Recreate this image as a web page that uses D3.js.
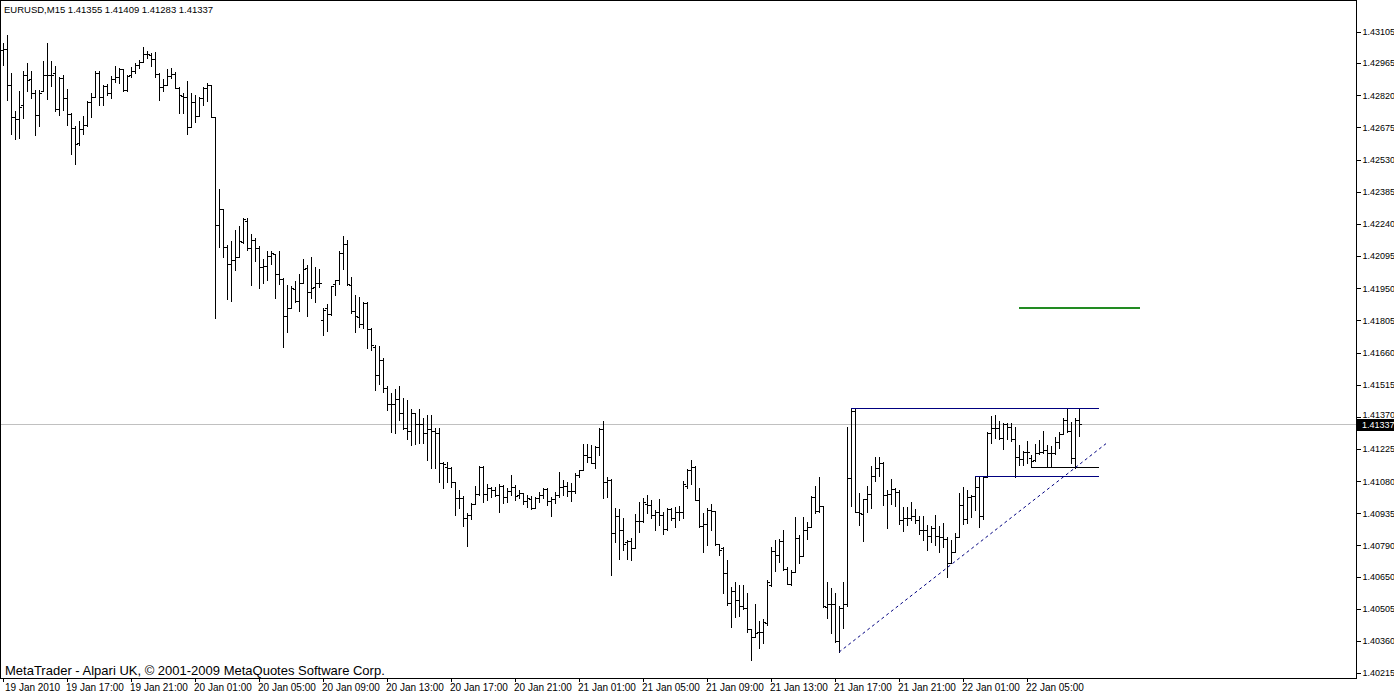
<!DOCTYPE html>
<html><head><meta charset="utf-8">
<script src="https://cdn.jsdelivr.net/npm/d3@7"></script>
<style>
body{margin:0;background:#fff;}
svg{display:block;}
text{font-family:"Liberation Sans",Arial,sans-serif;}
</style>
</head><body>
<svg id="chart" width="1394" height="694"></svg>
<script>
const header = "EURUSD,M15  1.41355 1.41409 1.41283 1.41337";
const footer = "MetaTrader - Alpari UK, \u00A9 2001-2009 MetaQuotes Software Corp.";

const openP = [1.43024,1.43028,1.42866,1.42722,1.42713,1.42776,1.42911,1.42893,1.42830,1.42731,
1.42839,1.42911,1.42911,1.42920,1.42758,1.42898,1.42807,1.42735,1.42672,1.42604,
1.42668,1.42686,1.42789,1.42812,1.42920,1.42812,1.42861,1.42830,1.42893,1.42902,
1.42938,1.42843,1.42911,1.42929,1.42956,1.42970,1.43006,1.43001,1.42983,1.42916,
1.42857,1.42866,1.42907,1.42916,1.42852,1.42816,1.42812,1.42677,1.42789,1.42726,
1.42807,1.42852,1.42866,1.42722,1.42235,1.42307,1.42135,1.42059,1.42077,1.42090,
1.42158,1.42253,1.42131,1.42167,1.42131,1.42045,1.42050,1.42095,1.42104,1.42014,
1.41991,1.41824,1.41860,1.41946,1.41892,1.41973,1.42041,1.41932,1.41955,1.41973,
1.41806,1.41860,1.41833,1.41968,1.41987,1.42108,1.42149,1.41964,1.41847,1.41820,
1.41788,1.41883,1.41766,1.41684,1.41558,1.41626,1.41499,1.41427,1.41427,1.41450,
1.41387,1.41319,1.41306,1.41387,1.41337,1.41337,1.41296,1.41315,1.41306,1.41296,
1.41161,1.41143,1.41139,1.41075,1.41003,1.41003,1.40913,1.40927,1.40976,1.41021,
1.41143,1.41021,1.41048,1.41039,1.41017,1.41057,1.41008,1.41035,1.41053,1.41017,
1.41026,1.40990,1.40999,1.40958,1.41003,1.41017,1.41044,1.40990,1.40999,1.41017,
1.41053,1.41057,1.41035,1.41035,1.41107,1.41130,1.41197,1.41188,1.41161,1.41233,
1.41315,1.41075,1.41085,1.40845,1.40922,1.40859,1.40805,1.40809,1.40778,1.40900,
1.40900,1.40976,1.40972,1.40927,1.40940,1.40927,1.40864,1.40954,1.40913,1.40940,
1.40940,1.41057,1.41130,1.41143,1.40994,1.40877,1.40886,1.40949,1.40945,1.40796,
1.40778,1.40665,1.40530,1.40584,1.40543,1.40516,1.40507,1.40413,1.40376,1.40399,
1.40399,1.40440,1.40611,1.40764,1.40746,1.40809,1.40684,1.40615,1.40670,1.40823,
1.40742,1.40859,1.40873,1.41008,1.40945,1.40967,1.40512,1.40525,1.40525,1.40358,
1.40507,1.40525,1.41094,1.41396,1.40940,1.40931,1.40999,1.41021,1.41103,1.41139,
1.41161,1.41017,1.41021,1.41044,1.41030,1.40904,1.40913,1.40913,1.40922,1.40904,
1.40859,1.40859,1.40832,1.40868,1.40832,1.40827,1.40818,1.40710,1.40760,1.40827,
1.40972,1.40909,1.41008,1.41012,1.41053,1.40922,1.41098,1.41296,1.41319,1.41319,
1.41274,1.41337,1.41324,1.41269,1.41188,1.41179,1.41211,1.41184,1.41175,1.41206,
1.41211,1.41220,1.41206,1.41206,1.41256,1.41292,1.41355,1.41306,1.41184,1.41355];

const highP = [1.43055,1.43091,1.42920,1.42749,1.42839,1.42929,1.42965,1.42929,1.42843,1.42843,
1.42974,1.43055,1.42974,1.42952,1.42902,1.42911,1.42848,1.42740,1.42681,1.42704,
1.42726,1.42794,1.42830,1.42929,1.42929,1.42866,1.42870,1.42907,1.42952,1.42943,
1.42938,1.42911,1.42947,1.42965,1.42979,1.43037,1.43019,1.43010,1.43015,1.42920,
1.42893,1.42938,1.42943,1.42925,1.42857,1.42830,1.42884,1.42830,1.42821,1.42812,
1.42857,1.42875,1.42866,1.42722,1.42397,1.42307,1.42144,1.42162,1.42212,1.42230,
1.42266,1.42266,1.42194,1.42176,1.42140,1.42081,1.42117,1.42117,1.42104,1.42117,
1.41996,1.41964,1.41959,1.41982,1.42014,1.42081,1.42054,1.42090,1.42045,1.42036,
1.41860,1.41878,1.41959,1.41987,1.42117,1.42185,1.42167,1.42000,1.41919,1.41910,
1.41887,1.41887,1.41770,1.41693,1.41689,1.41635,1.41508,1.41477,1.41495,1.41508,
1.41454,1.41445,1.41405,1.41387,1.41405,1.41364,1.41378,1.41378,1.41319,1.41319,
1.41166,1.41166,1.41143,1.41075,1.41039,1.41012,1.40936,1.40981,1.41057,1.41148,
1.41148,1.41066,1.41053,1.41053,1.41066,1.41062,1.41048,1.41107,1.41062,1.41039,
1.41026,1.41017,1.41012,1.41008,1.41030,1.41048,1.41048,1.41008,1.41030,1.41121,
1.41085,1.41075,1.41071,1.41116,1.41130,1.41247,1.41247,1.41242,1.41238,1.41319,
1.41351,1.41098,1.41089,1.40958,1.40954,1.40913,1.40814,1.40823,1.40931,1.40985,
1.41003,1.41017,1.40994,1.40949,1.40999,1.40940,1.40958,1.40958,1.40963,1.40967,
1.41080,1.41134,1.41175,1.41148,1.41048,1.40936,1.40958,1.40976,1.40945,1.40796,
1.40782,1.40724,1.40602,1.40624,1.40611,1.40611,1.40575,1.40413,1.40525,1.40449,
1.40458,1.40634,1.40782,1.40814,1.40818,1.40859,1.40692,1.40679,1.40918,1.40836,
1.40918,1.40895,1.41012,1.41057,1.41098,1.40967,1.40624,1.40597,1.40575,1.40516,
1.40624,1.41324,1.41409,1.41405,1.41026,1.40999,1.41057,1.41148,1.41188,1.41188,
1.41166,1.41039,1.41089,1.41048,1.41039,1.40963,1.40963,1.40985,1.40954,1.40922,
1.40922,1.40882,1.40877,1.40927,1.40877,1.40891,1.40827,1.40814,1.40845,1.41026,
1.41053,1.41039,1.41017,1.41098,1.41103,1.41103,1.41301,1.41373,1.41378,1.41351,
1.41342,1.41342,1.41342,1.41324,1.41242,1.41215,1.41260,1.41197,1.41247,1.41265,
1.41306,1.41242,1.41238,1.41278,1.41301,1.41364,1.41409,1.41346,1.41364,1.41409];

const lowP = [1.42956,1.42798,1.42645,1.42622,1.42627,1.42717,1.42839,1.42807,1.42640,1.42681,
1.42839,1.42803,1.42861,1.42749,1.42731,1.42753,1.42686,1.42555,1.42510,1.42595,
1.42645,1.42681,1.42722,1.42812,1.42776,1.42776,1.42821,1.42807,1.42879,1.42875,
1.42839,1.42839,1.42902,1.42920,1.42943,1.42970,1.42988,1.42952,1.42902,1.42798,
1.42839,1.42866,1.42898,1.42852,1.42740,1.42740,1.42645,1.42677,1.42699,1.42726,
1.42776,1.42794,1.42722,1.41815,1.42135,1.42090,1.41901,1.41892,1.42032,1.42090,
1.42153,1.42122,1.41964,1.42072,1.41950,1.41973,1.41987,1.42059,1.41905,1.41968,
1.41684,1.41752,1.41860,1.41887,1.41847,1.41973,1.41824,1.41905,1.41887,1.41955,
1.41738,1.41757,1.41829,1.41919,1.41968,1.42036,1.41964,1.41838,1.41752,1.41775,
1.41770,1.41680,1.41671,1.41490,1.41517,1.41481,1.41400,1.41301,1.41296,1.41355,
1.41315,1.41269,1.41242,1.41247,1.41251,1.41251,1.41175,1.41139,1.41139,1.41075,
1.41048,1.41075,1.41053,1.40927,1.40958,1.40877,1.40787,1.40909,1.40976,1.41017,
1.40985,1.40994,1.41008,1.41012,1.40940,1.40981,1.40985,1.41017,1.40994,1.41003,
1.40976,1.40963,1.40954,1.40958,1.40985,1.41003,1.40972,1.40922,1.40981,1.41008,
1.41017,1.41012,1.40990,1.41026,1.41098,1.41130,1.41166,1.41161,1.41139,1.41197,
1.41003,1.41008,1.40656,1.40805,1.40728,1.40769,1.40728,1.40724,1.40778,1.40850,
1.40895,1.40936,1.40913,1.40859,1.40882,1.40841,1.40859,1.40904,1.40873,1.40904,
1.40913,1.41048,1.41066,1.40994,1.40873,1.40760,1.40791,1.40859,1.40791,1.40746,
1.40575,1.40521,1.40422,1.40467,1.40471,1.40503,1.40399,1.40273,1.40376,1.40327,
1.40349,1.40431,1.40606,1.40674,1.40715,1.40679,1.40615,1.40611,1.40670,1.40710,
1.40742,1.40818,1.40873,1.40936,1.40940,1.40512,1.40462,1.40394,1.40354,1.40309,
1.40417,1.40516,1.40967,1.40940,1.40882,1.40809,1.40940,1.40958,1.41080,1.41103,
1.40972,1.40868,1.40976,1.40967,1.40886,1.40855,1.40882,1.40904,1.40891,1.40841,
1.40814,1.40769,1.40805,1.40791,1.40760,1.40782,1.40647,1.40710,1.40760,1.40827,
1.40886,1.40891,1.40918,1.40949,1.40873,1.40909,1.41098,1.41251,1.41274,1.41269,
1.41224,1.41269,1.41260,1.41098,1.41152,1.41152,1.41161,1.41143,1.41170,1.41202,
1.41206,1.41148,1.41143,1.41202,1.41229,1.41292,1.41301,1.41161,1.41139,1.41283];

const closeP = [1.43028,1.42866,1.42722,1.42713,1.42767,1.42911,1.42889,1.42830,1.42731,1.42830,
1.42911,1.42911,1.42911,1.42758,1.42898,1.42807,1.42735,1.42672,1.42600,1.42668,
1.42686,1.42789,1.42812,1.42920,1.42812,1.42861,1.42830,1.42893,1.42902,1.42938,
1.42843,1.42907,1.42929,1.42956,1.42970,1.43006,1.43006,1.42983,1.42916,1.42857,
1.42866,1.42907,1.42916,1.42852,1.42821,1.42812,1.42677,1.42789,1.42726,1.42807,
1.42852,1.42866,1.42722,1.42235,1.42307,1.42135,1.42059,1.42077,1.42090,1.42162,
1.42262,1.42131,1.42167,1.42131,1.42045,1.42050,1.42095,1.42108,1.42014,1.41991,
1.41824,1.41860,1.41950,1.41892,1.41973,1.42036,1.41932,1.41950,1.41973,1.41973,
1.41851,1.41833,1.41959,1.41987,1.42108,1.42149,1.41968,1.41847,1.41824,1.41788,
1.41883,1.41766,1.41693,1.41558,1.41626,1.41499,1.41427,1.41427,1.41450,1.41387,
1.41319,1.41306,1.41387,1.41337,1.41337,1.41296,1.41315,1.41306,1.41296,1.41161,
1.41157,1.41139,1.41075,1.41003,1.41003,1.40913,1.40927,1.40976,1.41021,1.41143,
1.41021,1.41048,1.41039,1.41017,1.41057,1.41008,1.41035,1.41053,1.41012,1.41026,
1.40990,1.41003,1.40958,1.41003,1.41017,1.41044,1.40990,1.40999,1.41017,1.41053,
1.41057,1.41035,1.41035,1.41107,1.41130,1.41197,1.41188,1.41161,1.41233,1.41315,
1.41075,1.41085,1.40845,1.40922,1.40859,1.40796,1.40809,1.40778,1.40900,1.40900,
1.40985,1.40972,1.40927,1.40940,1.40927,1.40864,1.40954,1.40913,1.40940,1.40940,
1.41066,1.41130,1.41143,1.40994,1.40877,1.40886,1.40949,1.40945,1.40796,1.40769,
1.40665,1.40530,1.40584,1.40543,1.40516,1.40507,1.40413,1.40376,1.40394,1.40399,
1.40444,1.40624,1.40764,1.40746,1.40809,1.40684,1.40615,1.40670,1.40823,1.40742,
1.40859,1.40873,1.41008,1.40945,1.40967,1.40516,1.40525,1.40525,1.40358,1.40507,
1.40525,1.41094,1.41396,1.40940,1.40936,1.40999,1.41021,1.41103,1.41139,1.41161,
1.41017,1.41021,1.41044,1.41030,1.40904,1.40913,1.40913,1.40922,1.40904,1.40859,
1.40859,1.40832,1.40868,1.40832,1.40827,1.40818,1.40710,1.40760,1.40827,1.40972,
1.40909,1.41008,1.41012,1.41053,1.40922,1.41098,1.41296,1.41319,1.41319,1.41274,
1.41337,1.41324,1.41269,1.41188,1.41179,1.41211,1.41211,1.41170,1.41206,1.41211,
1.41220,1.41206,1.41206,1.41256,1.41292,1.41355,1.41306,1.41184,1.41355,1.41337];

const priceTicks = [1.43105,1.42965,1.42820,1.42675,1.42530,1.42385,1.42240,1.42095,1.41950,1.41805,
1.41660,1.41515,1.41370,1.41225,1.41080,1.40935,1.40790,1.40650,1.40505,1.40360,1.40215];

const timeLabels = ["19 Jan 2010","19 Jan 17:00","19 Jan 21:00","20 Jan 01:00","20 Jan 05:00","20 Jan 09:00",
"20 Jan 13:00","20 Jan 17:00","20 Jan 21:00","21 Jan 01:00","21 Jan 05:00","21 Jan 09:00","21 Jan 13:00",
"21 Jan 17:00","21 Jan 21:00","22 Jan 01:00","22 Jan 05:00"];
const timeLabelBars = [0,16,32,48,64,80,96,112,128,144,160,176,192,208,224,240,256];

const bidPrice = 1.41337;
// horizontal objects: [fromBar, toBar, price]
const channelTop = [212, 274, 1.41409];
const channelBottom = [243, 274, 1.41103];
const channelMid = [257, 274, 1.41143];
const targetLevel = [254, 284.25, 1.41867];
const trendLine = [[209, 1.40309], [275.75, 1.41249]];

const W = 1394, H = 694;
const plotRight = 1356, plotBottom = 678;
const svg = d3.select("#chart");

const x = d3.scaleLinear().domain([0, 338]).range([3, 1355]);
const y = d3.scaleLinear().domain([1.40215, 1.43105]).range([673, 32]);

const n = openP.length;
const bars = d3.range(n).map(i => ({i, o: openP[i], h: highP[i], l: lowP[i], c: closeP[i]}));

svg.append("rect").attr("x", 0).attr("y", 0).attr("width", W).attr("height", H).attr("fill", "#fff");

const px = i => Math.round(x(i));
const py = v => Math.round(y(v));

// bid line
svg.append("line").attr("x1", 0).attr("x2", plotRight).attr("y1", py(bidPrice) + 0.5).attr("y2", py(bidPrice) + 0.5)
  .attr("stroke", "#c0c0c0").attr("stroke-width", 1);

// bars
let d = "";
bars.forEach(b => {
  const cx = px(b.i);
  const yh = py(b.h), yl = py(b.l), yo = py(b.o), yc = py(b.c);
  d += `M${cx + 0.5},${yh}V${yl + 1}`;
  d += `M${cx - 2},${yo + 0.5}H${cx}`;
  d += `M${cx + 1},${yc + 0.5}H${cx + 3}`;
});
svg.append("path").attr("d", d).attr("stroke", "#000").attr("stroke-width", 1).attr("fill", "none").attr("shape-rendering", "crispEdges");

// channel lines
function hline(def, color, sw) {
  const yy = py(def[2]) + 0.5;
  svg.append("line").attr("x1", px(def[0])).attr("x2", px(def[1])).attr("y1", yy).attr("y2", yy)
    .attr("stroke", color).attr("stroke-width", sw).attr("shape-rendering", "crispEdges");
}
hline(channelTop, "#000080", 1);
hline(channelBottom, "#000080", 1);
hline(channelMid, "#000000", 1);
svg.append("line")
  .attr("x1", px(targetLevel[0])).attr("x2", px(targetLevel[1]))
  .attr("y1", py(targetLevel[2]) + 1).attr("y2", py(targetLevel[2]) + 1)
  .attr("stroke", "#228b22").attr("stroke-width", 2).attr("shape-rendering", "crispEdges");

// trend line (dotted)
svg.append("line")
  .attr("x1", x(trendLine[0][0])).attr("y1", y(trendLine[0][1]))
  .attr("x2", x(trendLine[1][0])).attr("y2", y(trendLine[1][1]))
  .attr("stroke", "#000080").attr("stroke-width", 1).attr("stroke-dasharray", "3,3");

// borders
const frame = [[plotRight + 0.5, 0, plotRight + 0.5, plotBottom + 1], [0, plotBottom + 0.5, plotRight + 1, plotBottom + 0.5],
  [0.5, 0, 0.5, plotBottom + 1], [0, 0.5, plotRight + 1, 0.5]];
frame.forEach(f => svg.append("line").attr("x1", f[0]).attr("y1", f[1]).attr("x2", f[2]).attr("y2", f[3])
  .attr("stroke", "#000").attr("shape-rendering", "crispEdges"));

// right price axis
const yAxis = d3.axisRight(y).tickValues(priceTicks).tickFormat(d3.format(".5f")).tickSize(4).tickPadding(2);
const ga = svg.append("g").attr("transform", `translate(${plotRight + 0.5},0)`).call(yAxis);
ga.select(".domain").remove();
ga.selectAll("line").attr("stroke", "#000").attr("shape-rendering", "crispEdges");
ga.selectAll("text").attr("font-size", 9).attr("font-family", "Liberation Sans, Arial, sans-serif").attr("fill", "#000");
// label right above the bid box is partly hidden in the original; lift it clear of the box
ga.selectAll(".tick").filter(v => Math.abs(v - 1.41370) < 1e-6).select("text").attr("dy", "0.05em");

// bid label
const by = py(bidPrice);
svg.append("rect").attr("x", plotRight + 1).attr("y", by - 5).attr("width", W - plotRight - 1).attr("height", 12).attr("fill", "#000");
svg.append("text").attr("x", plotRight + 6).attr("y", by + 1).attr("dy", "0.35em").attr("font-size", 9).attr("fill", "#fff").text(d3.format(".5f")(bidPrice));

// time axis
const xt = svg.append("g");
timeLabelBars.forEach((b, k) => {
  const xx = px(b);
  xt.append("line").attr("x1", xx + 0.5).attr("x2", xx + 0.5).attr("y1", plotBottom).attr("y2", plotBottom + 4).attr("stroke", "#000").attr("shape-rendering", "crispEdges");
  xt.append("text").attr("x", b === 0 ? 5 : xx - 1).attr("y", 691).attr("font-size", 10).attr("fill", "#000").text(timeLabels[k]);
});

// header + footer
svg.append("text").attr("x", 4).attr("y", 13).attr("font-size", 9.5).attr("fill", "#000").text(header);
svg.append("text").attr("x", 5).attr("y", 675).attr("font-size", 13).attr("fill", "#000").text(footer);
</script>
</body></html>
